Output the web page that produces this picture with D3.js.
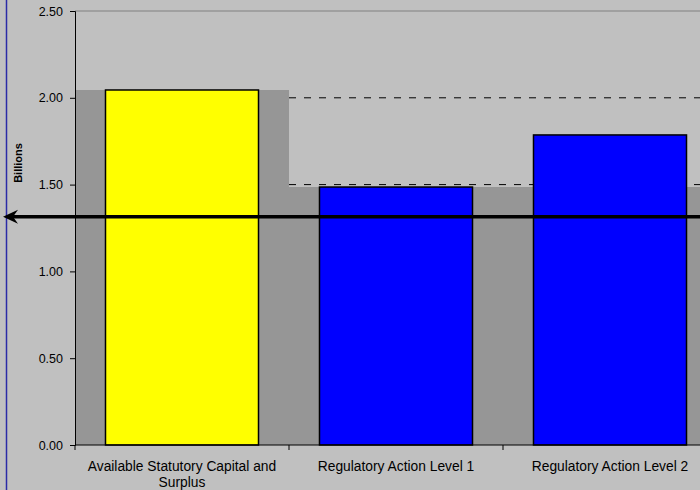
<!DOCTYPE html>
<html>
<head>
<meta charset="utf-8">
<script src="https://cdn.jsdelivr.net/npm/d3@7"></script>
<style>
  body { margin: 0; background: #c0c0c0; }
  svg { display: block; font-family: "Liberation Sans", Arial, sans-serif; }
</style>
</head>
<body>
<div id="wrapper"></div>
<script>
// data
const categories = ["Available Statutory Capital and Surplus", "Regulatory Action Level 1", "Regulatory Action Level 2"]
const barValues = [2.045, 1.486, 1.786]
const barColors = ["#ffff00", "#0000ff", "#0000ff"]
const areaValues = [2.045, 1.486, 1.486]
const dashedLevels = [2.0, 1.5]
const arrowValue = 1.315
const yTicks = [0, 0.5, 1.0, 1.5, 2.0, 2.5]

const dimensions = {
  width: 700,
  height: 490,
  margin: { top: 11, right: -17, bottom: 45, left: 75 }
}
dimensions.boundedWidth = dimensions.width - dimensions.margin.left - dimensions.margin.right
dimensions.boundedHeight = dimensions.height - dimensions.margin.top - dimensions.margin.bottom

const svg = d3.select("#wrapper").append("svg")
  .attr("width", dimensions.width)
  .attr("height", dimensions.height)

svg.append("rect")
  .attr("width", dimensions.width)
  .attr("height", dimensions.height)
  .attr("fill", "#c0c0c0")

// blue chart border on the left
svg.append("line")
  .attr("x1", 6.5).attr("x2", 6.5)
  .attr("y1", 0).attr("y2", dimensions.height)
  .attr("stroke", "#2b2ba6")
  .attr("stroke-width", 1.5)

const bounds = svg.append("g")
  .attr("transform", `translate(${dimensions.margin.left},${dimensions.margin.top})`)

const xScale = d3.scaleBand()
  .domain(categories)
  .range([0, dimensions.boundedWidth])
  .paddingInner(0.285)
  .paddingOuter(0.1425)

const yScale = d3.scaleLinear()
  .domain([0, 2.5])
  .range([dimensions.boundedHeight, 0])

const step = xScale.step()
const edge = i => i * step

// top border of plot
bounds.append("line")
  .attr("x1", 0).attr("x2", dimensions.boundedWidth)
  .attr("y1", yScale(2.5)).attr("y2", yScale(2.5))
  .attr("stroke", "#808080")

// stepped gray area behind the bars
const areaPoints = areaValues.map((v, i) => ({ x: edge(i), v }))
areaPoints.push({ x: edge(areaValues.length), v: areaValues[areaValues.length - 1] })
const areaGen = d3.area()
  .x(d => d.x)
  .y0(yScale(0))
  .y1(d => yScale(d.v))
  .curve(d3.curveStepAfter)
bounds.append("path")
  .datum(areaPoints)
  .attr("d", areaGen)
  .attr("fill", "#969696")

// dashed levels from the second category on
bounds.selectAll(".level")
  .data(dashedLevels)
  .join("line")
  .attr("class", "level")
  .attr("x1", edge(1)).attr("x2", dimensions.boundedWidth)
  .attr("y1", d => yScale(d)).attr("y2", d => yScale(d))
  .attr("stroke", "#000")
  .attr("stroke-dasharray", "7,8")

// bars
bounds.selectAll(".bar")
  .data(categories)
  .join("rect")
  .attr("class", "bar")
  .attr("x", d => xScale(d))
  .attr("y", (d, i) => yScale(barValues[i]))
  .attr("width", xScale.bandwidth())
  .attr("height", (d, i) => yScale(0) - yScale(barValues[i]))
  .attr("fill", (d, i) => barColors[i])
  .attr("stroke", "#000")
  .attr("stroke-width", 1.5)

// axes
const yAxis = bounds.append("g")
  .call(d3.axisLeft(yScale).tickValues(yTicks).tickFormat(d3.format(".2f")).tickSize(5).tickPadding(7))
yAxis.select(".domain").attr("stroke", "#000")
yAxis.selectAll("text").attr("font-size", 12.5).attr("fill", "#000").attr("font-family", "Liberation Sans, Arial")

const xAxis = bounds.append("g")
  .attr("transform", `translate(0,${dimensions.boundedHeight})`)
xAxis.append("line")
  .attr("x1", 0).attr("x2", dimensions.boundedWidth)
  .attr("stroke", "#000")
xAxis.selectAll(".tick")
  .data(d3.range(categories.length + 1))
  .join("line")
  .attr("class", "tick")
  .attr("x1", d => edge(d)).attr("x2", d => edge(d))
  .attr("y1", 0).attr("y2", 5)
  .attr("stroke", "#000")

const labelLines = [["Available Statutory Capital and", "Surplus"], ["Regulatory Action Level 1"], ["Regulatory Action Level 2"]]
const labels = xAxis.selectAll(".cat")
  .data(categories)
  .join("text")
  .attr("class", "cat")
  .attr("x", d => xScale(d) + xScale.bandwidth() / 2)
  .attr("y", 26)
  .attr("text-anchor", "middle")
  .attr("font-size", 13.8)
labels.selectAll("tspan")
  .data((d, i) => labelLines[i])
  .join("tspan")
  .attr("x", function () { return this.parentNode.getAttribute("x") })
  .attr("dy", (d, i) => i === 0 ? 0 : 16)
  .text(d => d)

// y axis title
svg.append("text")
  .attr("transform", `translate(22,${163}) rotate(-90)`)
  .attr("text-anchor", "middle")
  .attr("font-size", 11)
  .attr("font-weight", "bold")
  .text("Billions")

// arrow pointing left at the threshold value
const arrowY = dimensions.margin.top + yScale(arrowValue)
svg.append("line")
  .attr("x1", 700).attr("x2", 12)
  .attr("y1", arrowY).attr("y2", arrowY)
  .attr("stroke", "#000")
  .attr("stroke-width", 3.5)
svg.append("path")
  .attr("d", `M3,${arrowY} L18,${arrowY - 7} L13,${arrowY} L18,${arrowY + 7} Z`)
  .attr("fill", "#000")
</script>
</body>
</html>
